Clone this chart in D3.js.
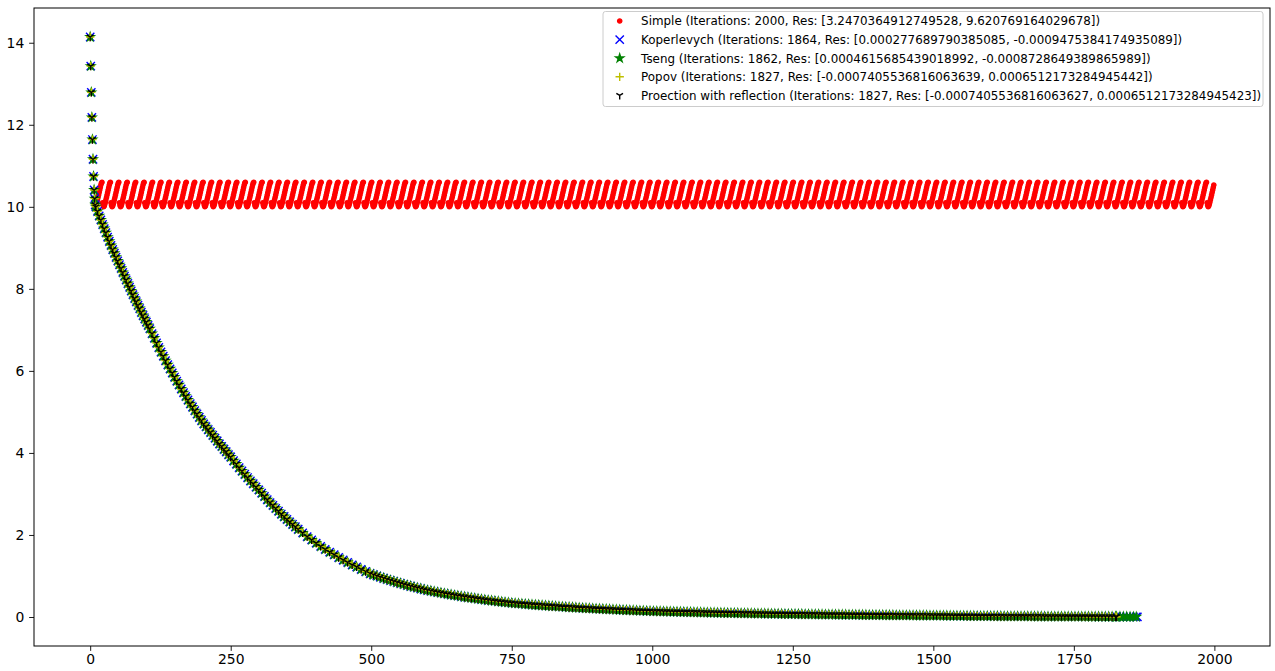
<!DOCTYPE html>
<html>
<head>
<meta charset="utf-8">
<script src="https://cdn.jsdelivr.net/npm/d3@7"></script>
<style>
  body { margin: 0; background: #fff; }
  svg { display: block; }
</style>
</head>
<body>
<div id="wrapper"></div>
<script>
// series info
const methodNames = ["Simple", "Koperlevych", "Tseng", "Popov", "Proection with reflection"]
const iterationCounts = [2000, 1864, 1862, 1827, 1827]
const resTexts = [
  "[3.2470364912749528, 9.620769164029678]",
  "[0.000277689790385085, -0.0009475384174935089]",
  "[0.0004615685439018992, -0.0008728649389865989]",
  "[-0.0007405536816063639, 0.0006512173284945442]",
  "[-0.0007405536816063627, 0.0006512173284945423]"
]
const colors = ["#ff0000", "#0000ff", "#008000", "#bfbf00", "#000000"]
const markers = ["point", "x", "star", "plus", "tri_down"]

// first iterations, same for every method (k = 0..9)
const startValues = [14.14, 13.43, 12.79, 12.18, 11.64, 11.16, 10.74, 10.41, 10.2, 10.05]

// one tooth of the Simple method after it stalls (~15 iterations)
const simpleCycle = [10.02, 10.06, 10.11, 10.17, 10.23, 10.29, 10.35, 10.41, 10.47, 10.53, 10.58, 10.6, 10.1, 10.04, 10.0]

// decay of the other methods, [iteration, value] read at sampled iterations
const decayPoints = [
  [10,10.0],[13,9.89],[16,9.78],[19,9.68],[22,9.57],[25,9.47],[28,9.37],[31,9.26],[34,9.16],[37,9.06],
  [40,8.96],[43,8.87],[46,8.77],[49,8.68],[52,8.59],[55,8.50],[58,8.40],[61,8.31],[64,8.22],[67,8.13],
  [70,8.04],[73,7.95],[76,7.86],[79,7.77],[82,7.69],[85,7.60],[88,7.52],[91,7.43],[94,7.35],[97,7.27],
  [100,7.19],[103,7.11],[106,7.03],[110,6.91],[114,6.80],[118,6.68],[122,6.57],[126,6.46],[130,6.36],
  [134,6.25],[138,6.15],[142,6.05],[146,5.95],[150,5.85],[154,5.75],[158,5.66],[162,5.56],[166,5.47],
  [170,5.38],[174,5.29],[178,5.20],[182,5.12],[186,5.03],[190,4.95],[194,4.87],[198,4.79],[202,4.71],
  [206,4.64],[210,4.57],[214,4.50],[218,4.43],[222,4.36],[226,4.29],[230,4.22],[234,4.16],[238,4.09],
  [242,4.03],[246,3.96],[250,3.90],[255,3.81],[260,3.73],[265,3.64],[270,3.56],[275,3.48],[280,3.40],
  [285,3.32],[290,3.25],[295,3.17],[300,3.10],[305,3.02],[310,2.94],[315,2.86],[320,2.79],[325,2.72],
  [330,2.65],[335,2.58],[340,2.51],[345,2.45],[350,2.38],[355,2.32],[360,2.26],[365,2.20],[370,2.14],
  [378,2.05],[386,1.96],[394,1.88],[402,1.80],[410,1.72],[418,1.65],[426,1.58],[434,1.52],[442,1.45],
  [450,1.39],[458,1.33],[466,1.27],[474,1.22],[482,1.16],[490,1.11],[498,1.06],
  [504,1.030],[510,1.001],[516,0.972],[522,0.945],[528,0.918],[534,0.892],[540,0.867],[546,0.842],
  [552,0.818],[558,0.795],[564,0.772],[570,0.750],[576,0.729],[582,0.709],[588,0.689],[594,0.669],
  [600,0.650],[606,0.633],[612,0.617],[618,0.601],[624,0.586],[630,0.571],[636,0.556],[642,0.542],
  [648,0.528],[654,0.514],[660,0.501],[666,0.488],[672,0.476],[678,0.464],[684,0.452],[690,0.440],
  [696,0.429],[702,0.418],[708,0.407],[714,0.397],[720,0.387],[726,0.377],[732,0.367],[738,0.358],
  [744,0.349],[750,0.340],[756,0.333],[762,0.326],[768,0.319],[774,0.312],[780,0.306],[786,0.299],
  [792,0.293],[798,0.287],[804,0.281],[810,0.275],[816,0.269],[822,0.263],[828,0.258],[834,0.252],
  [840,0.247],[846,0.242],[852,0.237],[858,0.232],[864,0.227],[870,0.222],[876,0.218],[882,0.213],
  [888,0.209],[894,0.204],[900,0.200],[906,0.196],[912,0.192],[918,0.188],[924,0.184],[930,0.180],
  [936,0.176],[942,0.172],[948,0.168],[954,0.165],[960,0.161],[966,0.158],[972,0.155],[978,0.151],
  [984,0.148],[990,0.145],[996,0.142],[1002,0.139],[1008,0.137],[1014,0.135],[1020,0.132],[1026,0.130],
  [1032,0.128],[1038,0.126],[1044,0.124],[1050,0.122],[1056,0.120],[1062,0.118],[1068,0.116],[1074,0.114],
  [1080,0.112],[1086,0.110],[1092,0.108],[1098,0.106],[1104,0.104],[1110,0.103],[1116,0.101],[1122,0.099],
  [1128,0.098],[1134,0.096],[1140,0.094],[1146,0.093],[1152,0.091],[1158,0.090],[1164,0.088],[1170,0.087],
  [1176,0.085],[1182,0.084],[1188,0.083],[1194,0.081],[1200,0.080],[1206,0.079],[1212,0.077],[1218,0.076],
  [1224,0.075],[1230,0.073],[1236,0.072],[1242,0.071],[1248,0.070],[1254,0.069],[1260,0.068],[1266,0.067],
  [1272,0.066],[1278,0.065],[1284,0.063],[1290,0.062],[1296,0.061],[1302,0.060],[1308,0.059],[1314,0.058],
  [1320,0.057],[1326,0.056],[1332,0.055],[1338,0.054],[1344,0.054],[1350,0.053],[1356,0.052],[1362,0.051],
  [1368,0.050],[1374,0.049],[1380,0.048],[1386,0.047],[1392,0.047],[1398,0.046],[1404,0.045],[1410,0.044],
  [1416,0.044],[1422,0.043],[1428,0.042],[1434,0.041],[1440,0.041],[1446,0.040],[1452,0.039],[1458,0.039],
  [1464,0.038],[1470,0.037],[1476,0.037],[1482,0.036],[1488,0.036],[1494,0.035],[1500,0.035],[1506,0.034],
  [1512,0.033],[1518,0.032],[1524,0.031],[1530,0.030],[1536,0.029],[1542,0.028],[1548,0.027],[1554,0.026],
  [1560,0.025],[1566,0.024],[1572,0.024],[1578,0.023],[1584,0.022],[1590,0.021],[1596,0.021],[1602,0.020],
  [1608,0.019],[1614,0.019],[1620,0.018],[1626,0.017],[1632,0.017],[1638,0.016],[1644,0.016],[1650,0.015],
  [1656,0.015],[1662,0.014],[1668,0.014],[1674,0.013],[1680,0.013],[1686,0.012],[1692,0.012],[1698,0.011],
  [1704,0.011],[1710,0.011],[1716,0.010],[1722,0.010],[1728,0.0095],[1734,0.0092],[1740,0.009],[1746,0.0087],
  [1752,0.0084],[1758,0.0081],[1764,0.0079],[1770,0.0076],[1776,0.0074],[1782,0.0071],[1788,0.0069],
  [1794,0.0067],[1800,0.0065],[1806,0.0063],[1812,0.0061],[1818,0.0059],[1824,0.0057],[1826,0.0056],
  [1832,0.0055],[1838,0.0053],[1844,0.0052],[1850,0.0050],[1856,0.0049],[1861,0.0048],[1863,0.0047]
]

const xTicks = [0, 250, 500, 750, 1000, 1250, 1500, 1750, 2000]
const yTicks = [0, 2, 4, 6, 8, 10, 12, 14]

// build point lists
const series = methodNames.map((name, i) => {
  let pts = startValues.map((v, k) => ({k: k, v: v}))
  if (i == 0) {
    for (let k = startValues.length; k < iterationCounts[0]; k++) {
      pts.push({k: k, v: simpleCycle[(k - startValues.length) % simpleCycle.length]})
    }
  } else {
    decayPoints.forEach(d => {
      if (d[0] < iterationCounts[i]) pts.push({k: d[0], v: d[1]})
    })
  }
  return {name, pts, color: colors[i], marker: markers[i],
    label: `${name} (Iterations: ${iterationCounts[i]}, Res: ${resTexts[i]})`}
})

const dimensions = {
  width: 1275,
  height: 671,
  margin: {top: 8, right: 5, bottom: 25, left: 34}
}
dimensions.boundedWidth = dimensions.width - dimensions.margin.left - dimensions.margin.right
dimensions.boundedHeight = dimensions.height - dimensions.margin.top - dimensions.margin.bottom

const svg = d3.select("#wrapper")
  .append("svg")
  .attr("width", dimensions.width)
  .attr("height", dimensions.height)
  .style("font-family", "'DejaVu Sans', sans-serif")

const bounds = svg.append("g")
  .attr("transform", `translate(${dimensions.margin.left},${dimensions.margin.top})`)

// matplotlib style 5% margins
const xMax = iterationCounts[0] - 1
const yMin = 0, yMax = startValues[0]
const xPad = xMax * 0.05, yPad = (yMax - yMin) * 0.05

const xScale = d3.scaleLinear()
  .domain([-xPad, xMax + xPad])
  .range([0, dimensions.boundedWidth])
const yScale = d3.scaleLinear()
  .domain([yMin - yPad, yMax + yPad])
  .range([dimensions.boundedHeight, 0])

const S = 8.33  // marker size in px (6pt)
const h = S / 2
function markerPath(type) {
  if (type == "x") return `M${-h},${-h}L${h},${h}M${-h},${h}L${h},${-h}`
  if (type == "plus") return `M${-h},0L${h},0M0,${-h}L0,${h}`
  if (type == "tri_down") return `M0,0L0,${h}M0,0L${0.8 * h},${-0.5 * h}M0,0L${-0.8 * h},${-0.5 * h}`
  if (type == "star") {
    let p = []
    for (let j = 0; j < 10; j++) {
      const r = j % 2 == 0 ? h : h * 0.381966
      const a = Math.PI / 2 + j * Math.PI / 5
      p.push([r * Math.cos(a), -r * Math.sin(a)])
    }
    return "M" + p.map(d => d.join(",")).join("L") + "Z"
  }
  return d3.arc()({innerRadius: 0, outerRadius: h * 0.5, startAngle: 0, endAngle: 2 * Math.PI})
}

const plot = bounds.append("g")
series.forEach(s => {
  const path = markerPath(s.marker)
  const filled = s.marker == "point" || s.marker == "star"
  plot.append("g")
    .selectAll("path")
    .data(s.pts)
    .enter()
    .append("path")
      .attr("d", path)
      .attr("transform", d => `translate(${xScale(d.k)},${yScale(d.v)})`)
      .attr("fill", filled ? s.color : "none")
      .attr("stroke", s.color)
      .attr("stroke-width", 1.39)
})

// axes
const xAxisGen = d3.axisBottom(xScale)
  .tickValues(xTicks)
  .tickSize(4.86)
  .tickPadding(3.5)
  .tickFormat(d3.format("d"))
const xAxis = bounds.append("g")
  .attr("transform", `translate(0,${dimensions.boundedHeight})`)
  .call(xAxisGen)

const yAxisGen = d3.axisLeft(yScale)
  .tickValues(yTicks)
  .tickSize(4.86)
  .tickPadding(4.86)
  .tickFormat(d3.format("d"))
const yAxis = bounds.append("g")
  .call(yAxisGen)

svg.selectAll(".tick text")
  .attr("font-size", "13.9px")
  .attr("font-family", "'DejaVu Sans', sans-serif")
  .attr("fill", "#000")
svg.selectAll(".tick line").attr("stroke", "#000").attr("stroke-width", 0.9)
svg.selectAll(".domain").remove()

bounds.append("rect")
  .attr("width", dimensions.boundedWidth)
  .attr("height", dimensions.boundedHeight)
  .attr("fill", "none")
  .attr("stroke", "#000")
  .attr("stroke-width", 1)

// legend
const legendFont = 11.9
const legend = svg.append("g")
  .attr("transform", `translate(603,11.5)`)
legend.append("rect")
  .attr("width", 660)
  .attr("height", 95)
  .attr("rx", 2.5)
  .attr("fill", "#fff")
  .attr("fill-opacity", 0.8)
  .attr("stroke", "#cccccc")
  .attr("stroke-width", 1)

series.forEach((s, i) => {
  const row = legend.append("g")
    .attr("transform", `translate(0,${9.5 + i * 18.6})`)
  const filled = s.marker == "point" || s.marker == "star"
  row.append("path")
    .attr("d", markerPath(s.marker))
    .attr("transform", "translate(16.7,0)")
    .attr("fill", filled ? s.color : "none")
    .attr("stroke", s.color)
    .attr("stroke-width", 1.39)
  row.append("text")
    .attr("x", 38.1)
    .attr("y", 4.3)
    .attr("font-size", legendFont + "px")
    .attr("fill", "#000")
    .text(s.label)
})
</script>
</body>
</html>
